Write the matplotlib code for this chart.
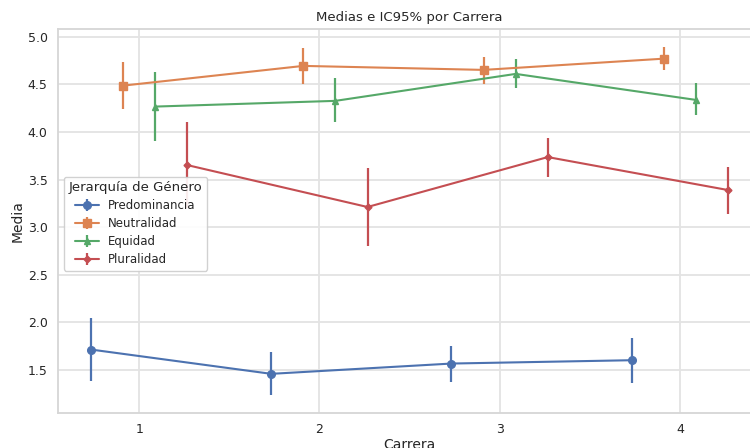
import matplotlib
matplotlib.use("Agg")
import matplotlib.pyplot as plt
import seaborn as sns
import numpy as np

carreras = [1, 2, 3, 4]
grupos = ["Predominancia", "Neutralidad", "Equidad", "Pluralidad"]

pred_mean = [1.716, 1.461, 1.569, 1.604]
pred_lo = [1.384, 1.237, 1.380, 1.367]
pred_hi = [2.048, 1.692, 1.758, 1.838]

neut_mean = [4.486, 4.693, 4.651, 4.769]
neut_lo = [4.242, 4.507, 4.504, 4.648]
neut_hi = [4.732, 4.878, 4.790, 4.889]

equi_mean = [4.266, 4.326, 4.609, 4.336]
equi_lo = [3.910, 4.103, 4.465, 4.179]
equi_hi = [4.630, 4.564, 4.763, 4.512]

plur_mean = [3.652, 3.212, 3.736, 3.390]
plur_lo = [3.205, 2.803, 3.532, 3.141]
plur_hi = [4.099, 3.620, 3.931, 3.637]

sns.set_theme(style="whitegrid")
plt.rcParams['font.family'] = ['DejaVu Sans']

fig = plt.figure(figsize=(7.5, 4.48), dpi=100)
ax = fig.add_axes([58/750, 1 - 413/448, (761 - 58)/750, (413 - 29.5)/448])

colors = sns.color_palette("deep", 4)
markers = ["o", "s", "^", "D"]
msizes = [5.5, 6, 4.5, 3.5]
offsets = [-0.267, -0.089, 0.089, 0.267]
series = [(pred_mean, pred_lo, pred_hi), (neut_mean, neut_lo, neut_hi),
          (equi_mean, equi_lo, equi_hi), (plur_mean, plur_lo, plur_hi)]

x = np.array(carreras, dtype=float)
for i, (name, (m, lo, hi)) in enumerate(zip(grupos, series)):
    m = np.array(m); lo = np.array(lo); hi = np.array(hi)
    xs = x + offsets[i]
    ax.errorbar(xs, m, yerr=[m - lo, hi - m], color=colors[i], marker=markers[i],
                markersize=msizes[i], linewidth=1.5, elinewidth=1.6, capsize=0,
                label=name, zorder=3)

ax.grid(True, color="#e3e3e3", linewidth=1.3)
for s in ax.spines.values():
    s.set_color("#d6d6d6")
    s.set_linewidth(1.3)

ax.set_xlim(0.55, 4.45)
ax.set_ylim(1.05, 5.075)
ax.set_xticks(carreras)
ax.set_xticklabels([str(c) for c in carreras])
ax.tick_params(axis="y", labelsize=9, length=0, pad=7.5)
ax.tick_params(axis="x", labelsize=9, length=0, pad=7.5)
ax.set_title("Medias e IC95% por Carrera", fontsize=9.5, pad=6)
ax.set_xlabel("Carrera", fontsize=10)
ax.set_ylabel("Media", fontsize=10)
ax.yaxis.set_label_coords((25 - 58) / 703, 0.5)
ax.xaxis.set_label_coords(0.5, (413 - 438) / 383.5)
leg = ax.legend(title="Jerarquía de Género", loc="upper left",
                bbox_to_anchor=(0.0, 0.632), fontsize=8.5, title_fontsize=9.5,
                framealpha=0.9, labelspacing=0.42, borderpad=0.4)
fig.savefig("out.png", dpi=100)
